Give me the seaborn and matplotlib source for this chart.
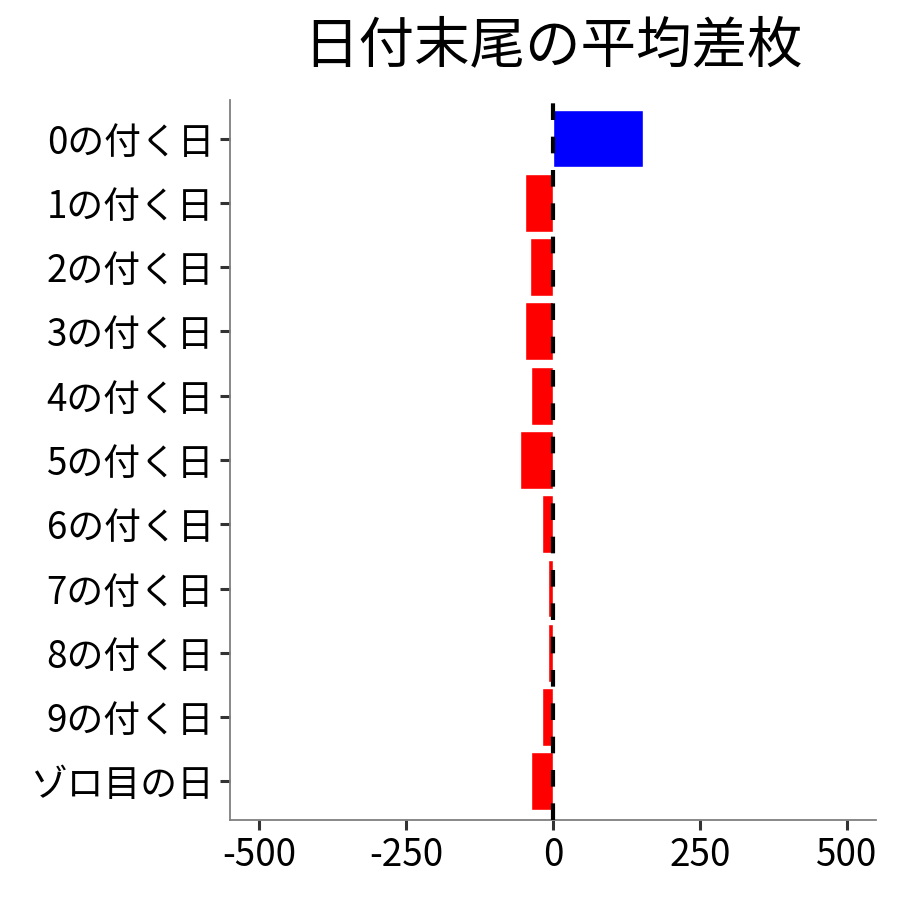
import matplotlib.pyplot as plt
import pandas as pd
import seaborn as sns

# 日付末尾ごとの平均差枚
labels = ['0の付く日', '1の付く日', '2の付く日', '3の付く日', '4の付く日', '5の付く日',
          '6の付く日', '7の付く日', '8の付く日', '9の付く日', 'ゾロ目の日']
values = [154, -48, -40, -48, -38, -57, -19, -9, -8, -19, -38]
x_ticks = [-500, -250, 0, 250, 500]

df = pd.DataFrame({'label': labels, 'value': values})
df['sign'] = ['plus' if v >= 0 else 'minus' for v in values]

sns.set_style('white')
plt.rcParams['font.family'] = ['Noto Sans CJK JP', 'DejaVu Sans']

fig = plt.figure(figsize=(9, 9), dpi=100)
ax = fig.add_axes([0.2556, 0.0889, 0.7177, 0.8])

sns.barplot(data=df, x='value', y='label', hue='sign', order=labels,
            palette={'plus': '#0000FF', 'minus': '#FF0000'},
            width=0.9, dodge=False, legend=False, saturation=1, ax=ax)
ax.axvline(0, color='black', lw=3, linestyle=(0, (4, 4)), zorder=5)

ax.set_xlim(-550, 550)
ax.set_ylim(len(labels) - 0.4, -0.6)
ax.set_xticks(x_ticks)
ax.set_xticklabels([str(t) for t in x_ticks])
ax.set_xlabel('')
ax.set_ylabel('')
ax.tick_params(axis='both', labelsize=26.5, length=7.5, width=2.2, color='#333333',
               labelcolor='black', pad=4, direction='out')
ax.tick_params(left=True, bottom=True)

for side in ['top', 'right']:
    ax.spines[side].set_visible(False)
for side in ['left', 'bottom']:
    ax.spines[side].set_color('#7f7f7f')
    ax.spines[side].set_linewidth(1.3)

ax.set_title('日付末尾の平均差枚', fontsize=40, pad=27, color='black')

fig.savefig('out.png', dpi=100)
